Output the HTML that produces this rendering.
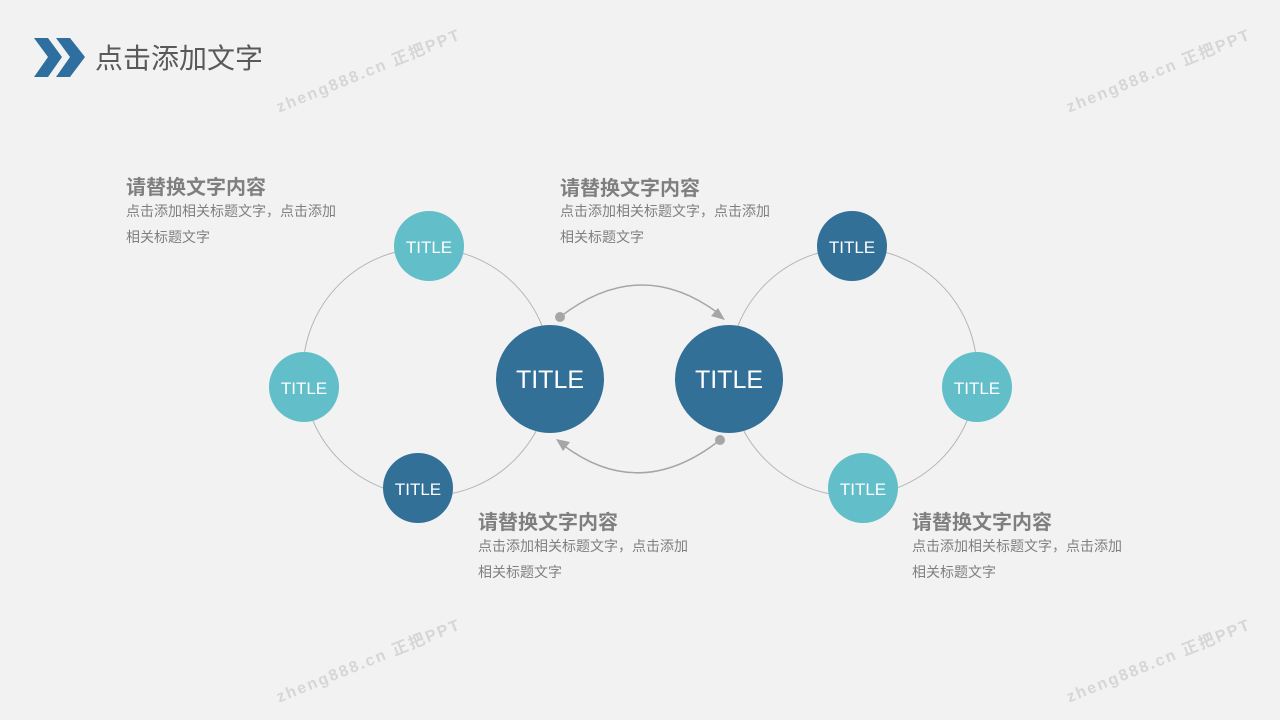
<!DOCTYPE html>
<html><head><meta charset="utf-8"><style>
body{margin:0;width:1280px;height:720px;background:#f2f2f2;overflow:hidden;position:relative;font-family:"Liberation Sans","Noto Sans CJK SC",sans-serif}
.h{position:absolute;font-size:20px;font-weight:bold;color:#7f7f7f}
.d{position:absolute;font-size:14px;color:#7f7f7f;line-height:26px}
.wm{position:absolute;font-size:16px;color:#d6d6d6;font-weight:bold;letter-spacing:2px;transform:rotate(-22deg);transform-origin:left top;white-space:nowrap}
</style></head><body>
<svg width="1280" height="720" style="position:absolute;left:0;top:0">
<polygon points="34,38 48,38 62,57 48,77 34,77 48,57" fill="#2e6fa0"/>
<polygon points="56,38 70,38 85,57 70,77 56,77 70,57" fill="#2e6fa0"/>
<circle cx="427" cy="372" r="124" fill="none" stroke="#b5b5b5" stroke-width="1"/>
<circle cx="853" cy="372" r="124" fill="none" stroke="#b5b5b5" stroke-width="1"/>
<path d="M560,317 Q640,255 718,313" fill="none" stroke="#a6a6a6" stroke-width="1.5"/>
<polygon points="725,320 711,316 718,308" fill="#a6a6a6"/>
<circle cx="560" cy="317" r="5" fill="#a6a6a6"/>
<path d="M720,440 Q640,503 563,445" fill="none" stroke="#a6a6a6" stroke-width="1.5"/>
<polygon points="556,439 570,442 563,451" fill="#a6a6a6"/>
<circle cx="720" cy="440" r="5" fill="#a6a6a6"/>
<g font-family="Liberation Sans" fill="#fff" text-anchor="middle">
<circle cx="550" cy="379" r="54" fill="#327098"/><text x="550" y="388" font-size="25">TITLE</text>
<circle cx="729" cy="379" r="54" fill="#327098"/><text x="729" y="388" font-size="25">TITLE</text>
<circle cx="429" cy="246" r="35" fill="#62bec9"/><text x="429" y="253" font-size="17">TITLE</text>
<circle cx="304" cy="387" r="35" fill="#62bec9"/><text x="304" y="394" font-size="17">TITLE</text>
<circle cx="418" cy="488" r="35" fill="#327098"/><text x="418" y="495" font-size="17">TITLE</text>
<circle cx="852" cy="246" r="35" fill="#327098"/><text x="852" y="253" font-size="17">TITLE</text>
<circle cx="977" cy="387" r="35" fill="#62bec9"/><text x="977" y="394" font-size="17">TITLE</text>
<circle cx="863" cy="488" r="35" fill="#62bec9"/><text x="863" y="495" font-size="17">TITLE</text>
</g>
</svg>
<div style="position:absolute;left:95px;top:37px;font-size:28px;color:#595959">点击添加文字</div>
<div class="h" style="left:126px;top:171px">请替换文字内容</div>
<div class="d" style="left:126px;top:198px">点击添加相关标题文字，点击添加<br>相关标题文字</div>
<div class="h" style="left:560px;top:172px">请替换文字内容</div>
<div class="d" style="left:560px;top:198px">点击添加相关标题文字，点击添加<br>相关标题文字</div>
<div class="h" style="left:478px;top:506px">请替换文字内容</div>
<div class="d" style="left:478px;top:533px">点击添加相关标题文字，点击添加<br>相关标题文字</div>
<div class="h" style="left:912px;top:506px">请替换文字内容</div>
<div class="d" style="left:912px;top:533px">点击添加相关标题文字，点击添加<br>相关标题文字</div>
<div class="wm" style="left:272px;top:95px">zheng888.cn 正把PPT</div>
<div class="wm" style="left:1062px;top:95px">zheng888.cn 正把PPT</div>
<div class="wm" style="left:272px;top:685px">zheng888.cn 正把PPT</div>
<div class="wm" style="left:1062px;top:685px">zheng888.cn 正把PPT</div>
</body></html>
